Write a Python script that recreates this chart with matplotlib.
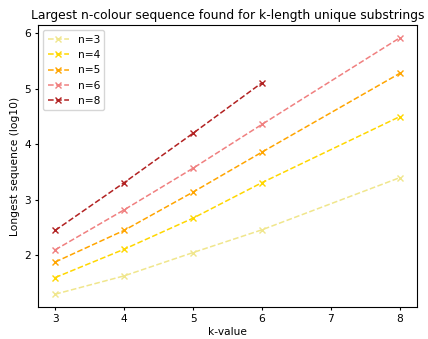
import matplotlib
matplotlib.use("Agg")
import matplotlib.pyplot as plt

k = [3, 4, 5, 6, 8]
k8 = [3, 4, 5, 6]

n3 = [1.30, 1.63, 2.05, 2.46, 3.40]
n4 = [1.60, 2.11, 2.67, 3.31, 4.50]
n5 = [1.88, 2.45, 3.14, 3.86, 5.28]
n6 = [2.10, 2.82, 3.57, 4.36, 5.92]
n8 = [2.45, 3.31, 4.20, 5.11]

fs = 7.7
lw = 1.1
ms = 4.5
fig = plt.figure(figsize=(4.28, 3.39), dpi=100)
ax = fig.add_axes([38/428, 32/339, 379/428, 282/339])

ax.plot(k, n3, '--x', color='khaki', lw=lw, ms=ms, label='n=3')
ax.plot(k, n4, '--x', color='gold', lw=lw, ms=ms, label='n=4')
ax.plot(k, n5, '--x', color='orange', lw=lw, ms=ms, label='n=5')
ax.plot(k, n6, '--x', color='lightcoral', lw=lw, ms=ms, label='n=6')
ax.plot(k8, n8, '--x', color='firebrick', lw=lw, ms=ms, label='n=8')

ax.set_title("Largest n-colour sequence found for k-length unique substrings", fontsize=8.9, pad=4.5)
ax.set_xlabel("k-value", fontsize=fs, labelpad=2)
ax.set_ylabel("Longest sequence (log10)", fontsize=fs, labelpad=3)
ax.tick_params(labelsize=fs, length=2.5, pad=2.5)
ax.legend(loc='upper left', fontsize=fs)

fig.savefig("out.png", dpi=100)
